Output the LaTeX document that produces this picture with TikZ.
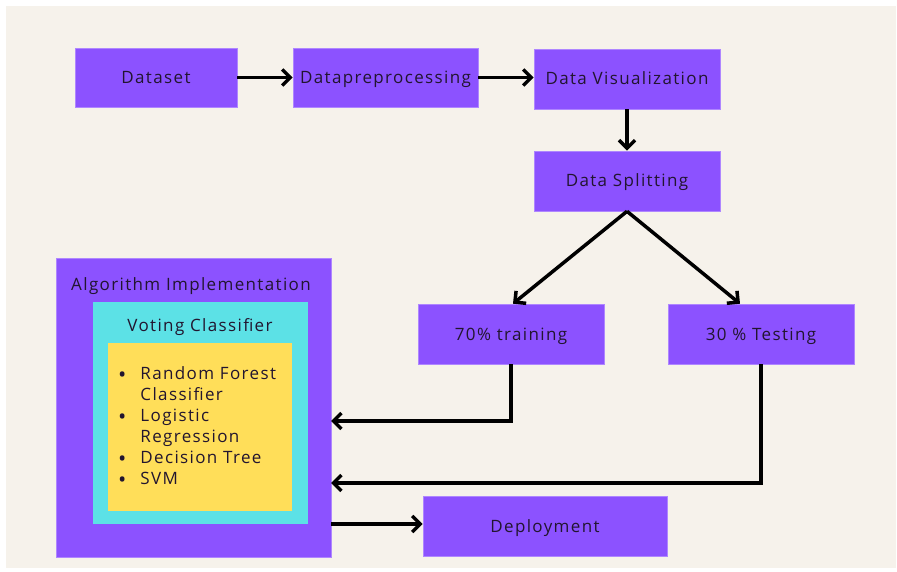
\documentclass[tikz,border=0pt]{standalone}
\usepackage{fontspec}
\setmainfont[LetterSpace=8]{Open Sans}
\usetikzlibrary{arrows.meta}
\definecolor{paper}{HTML}{F6F2EB}
\definecolor{boxpurple}{HTML}{8C52FF}
\definecolor{boxcyan}{HTML}{5CE1E6}
\definecolor{boxyellow}{HTML}{FFDE59}
\definecolor{ink}{HTML}{22152F}
\newcommand{\listdot}{\smash{\raisebox{-2.5pt}{\fontsize{22}{21}\selectfont\textbullet}}}
\begin{document}
\begin{tikzpicture}[x=1pt,y=-1pt,
    label text/.style={text=ink,font=\fontsize{17}{20}\selectfont,text height=14pt,text depth=2pt},
    stagebox/.style={label text,fill=boxpurple,draw=boxpurple!70!white,line width=0.6pt,
        minimum width=186pt,minimum height=60pt,inner sep=0pt},
    flow/.style={-{Straight Barb[length=8pt,width=16pt,line width=3.5pt]},line width=3.5pt}]
        \useasboundingbox[fill=white] (0,0) rectangle (897,572);
        \fill[paper] (6,6) rectangle (896,568);

        % pipeline boxes
        \node[stagebox,minimum width=162pt,minimum height=59pt] at (156,77.5) (dataset) {Dataset};
        \node[stagebox,minimum width=185pt,minimum height=59pt] at (385.5,77.5) (prep) {Datapreprocessing};
        \node[stagebox] at (627,79) (visual) {Data Visualization};
        \node[stagebox] at (627,181) (split) {Data Splitting};
        \node[stagebox] at (511,334) (train) {70\% training};
        \node[stagebox] at (761,334) (test) {30 \% Testing};
        \node[stagebox,minimum width=244pt] at (545,526) (deploy) {Deployment};

        % algorithm block
        \node[stagebox,minimum width=275pt,minimum height=299pt] at (193.5,407.5) (algo) {};
        \node[label text] at (191,284) (algotitle) {Algorithm Implementation};
        \node[fill=boxcyan,minimum width=215pt,minimum height=222pt,inner sep=0pt] at (200.5,413) (voting) {};
        \node[label text] at (200,325) (votingtitle) {Voting Classifier};
        \node[fill=boxyellow,minimum width=184pt,minimum height=168pt,inner sep=0pt] at (200,427) (models) {};
        \node[anchor=north west,text=ink,inner sep=0pt,font=\fontsize{17}{21}\selectfont] at (118,365) (modellist) {%
            \begin{tabular}{@{}l@{\hspace{14pt}}l@{}}
            \listdot & Random Forest\\
                     & Classifier\\
            \listdot & Logistic\\
                     & Regression\\
            \listdot & Decision Tree\\
            \listdot & SVM
            \end{tabular}};

        \coordinate (traininto) at (331,421);
        \coordinate (testinto) at (331,483);
        \coordinate (algoout) at (331,524);

        \draw[flow] (dataset.east) -- (prep.west);
        \draw[flow] (prep.east) -- (prep.east -| visual.west);
        \draw[flow] (visual.south) -- (split.north);
        \draw[flow] (split.south) -- ([xshift=2pt]train.north);
        \draw[flow] (split.south) -- ([xshift=-21pt]test.north);
        \draw[flow] (train.south) |- (traininto);
        \draw[flow] (test.south) |- (testinto);
        \draw[flow] (algoout) -- (algoout -| deploy.west);
    \end{tikzpicture}
\end{document}
